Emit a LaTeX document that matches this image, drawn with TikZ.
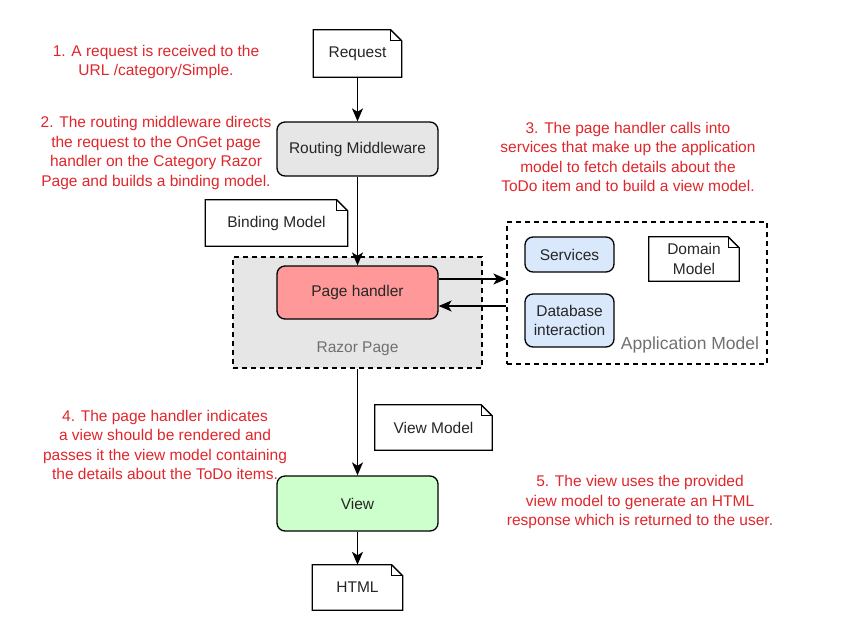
\documentclass[tikz,border=0pt]{standalone}
\usepackage{fontspec}
\setmainfont{Liberation Sans}
\usepackage{xcolor}
\usetikzlibrary{arrows.meta}
\usetikzlibrary{shapes}

\definecolor{notered}{HTML}{E0262B}
\definecolor{razorgray}{HTML}{E6E6E6}
\definecolor{handlerred}{HTML}{FF9999}
\definecolor{viewgreen}{HTML}{CCFFCC}
\definecolor{servblue}{HTML}{DAE8FC}
\definecolor{lblgray}{HTML}{707070}
\newcommand{\boxfont}{\fontsize{15.5}{19.5}\selectfont}

\tikzset{
  box/.style={draw=black, line width=1.3pt, rounded corners=8pt, align=center, font=\boxfont, text=black!85},
  docnote/.style={align=center, font=\boxfont, text=black!85,
    append after command={\pgfextra{
      \draw[line width=1.3pt] (\tikzlastnode.north west) -- ([xshift=-11pt]\tikzlastnode.north east)
        -- ([yshift=-11pt]\tikzlastnode.north east) -- (\tikzlastnode.south east)
        -- (\tikzlastnode.south west) -- cycle;
      \draw[line width=1.3pt] ([xshift=-11pt]\tikzlastnode.north east)
        -- ([xshift=-11pt,yshift=-11pt]\tikzlastnode.north east) -- ([yshift=-11pt]\tikzlastnode.north east);
    }}},
  groupbox/.style={draw=black, line width=1.3pt, dashed, dash pattern=on 5pt off 4pt},
  redtext/.style={align=center, font=\boxfont, text=notered},
  graytext/.style={font=\boxfont, text=lblgray},
  flow/.style={line width=1.3pt, -{Stealth[length=13pt,width=11pt,inset=3.5pt]}},
}

\begin{document}
\begin{tikzpicture}[x=1pt, y=-1pt]
	\useasboundingbox (0,0) rectangle (842,627);

	% request side
	\node[docnote, minimum width=88pt, minimum height=47pt] (request) at (357.5,53.5) {Request};
	\node[box, fill=razorgray, minimum width=161pt, minimum height=54pt] (routing) at (357.5,149) {Routing Middleware};
	\node[docnote, minimum width=142pt, minimum height=46pt] (binding) at (276.5,223) {Binding Model};

	% razor page
	\node[groupbox, fill=razorgray, minimum width=249pt, minimum height=111pt] (razor) at (357.5,312.5) {};
	\node[box, fill=handlerred, minimum width=161pt, minimum height=53pt] (handler) at (357.5,292.5) {Page handler};
	\node[graytext] (razorlbl) at (357.5,349) {Razor Page};

	% application model
	\node[groupbox, minimum width=260pt, minimum height=142pt] (appmodel) at (637,293) {};
	\node[box, fill=servblue, minimum width=89pt, minimum height=35pt] (services) at (569.5,254.5) {Services};
	\node[box, fill=servblue, minimum width=89pt, minimum height=53pt] (database) at (569.5,320.5) {Database\\interaction};
	\node[docnote, minimum width=90pt, minimum height=44pt] (domain) at (694,259) {Domain\\Model};
	\node[graytext, font=\fontsize{17.5}{21}\selectfont] (applbl) at (690,345) {Application Model};

	% view side
	\node[docnote, minimum width=117pt, minimum height=45pt] (viewmodel) at (433.5,427.5) {View Model};
	\node[box, fill=viewgreen, minimum width=161pt, minimum height=55pt] (view) at (357.5,503.5) {View};
	\node[docnote, minimum width=90pt, minimum height=45pt] (html) at (357.5,587.5) {HTML};

	\draw[flow] (request.south) -- (routing.north);
	\draw[flow] (routing.south) -- (handler.north);
	\draw[flow] ([yshift=13.5pt]handler.east) -- ([yshift=13.5pt]handler.east -| appmodel.west);
	\draw[flow] ([yshift=-13.5pt]handler.east -| appmodel.west) -- ([yshift=-13.5pt]handler.east);
	\draw[flow] (razor.south) -- (view.north);
	\draw[flow] (view.south) -- (html.north);

	% notes
	\node[redtext] (note1) at (156,62) {1. A request is received to the\\URL /category/Simple.};
	\node[redtext] (note2) at (156,153) {2. The routing middleware directs\\the request to the OnGet page\\handler on the Category Razor\\Page and builds a binding model.};
	\node[redtext] (note3) at (628,157) {3. The page handler calls into\\services that make up the application\\model to fetch details about the\\ToDo item and to build a view model.};
	\node[redtext] (note4) at (165,445) {4. The page handler indicates\\a view should be rendered and\\passes it the view model containing\\the details about the ToDo items.};
	\node[redtext] (note5) at (640,502) {5. The view uses the provided\\view model to generate an HTML\\response which is returned to the user.};

\end{tikzpicture}
\end{document}
